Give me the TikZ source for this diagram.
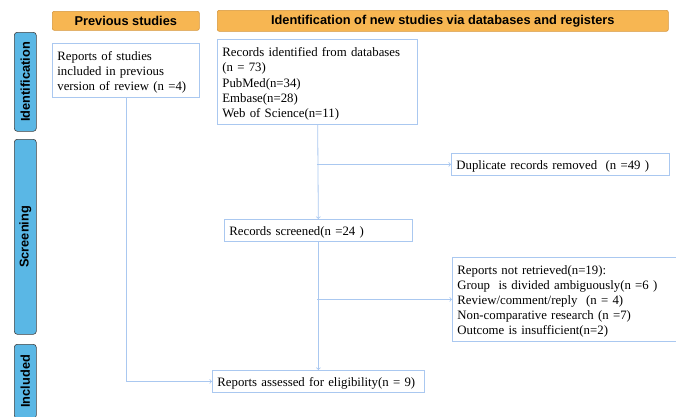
\documentclass[tikz,border=0pt]{standalone}
\usepackage{fontspec}
\setmainfont{Liberation Serif}
\newfontfamily\headfont{Liberation Sans}
\usetikzlibrary{positioning,arrows}

\definecolor{barorange}{RGB}{247,182,82}
\definecolor{barline}{RGB}{214,150,60}
\definecolor{stageblue}{RGB}{90,183,229}
\definecolor{boxline}{RGB}{170,200,240}

\begin{document}
\begin{tikzpicture}[x=1pt, y=-1pt, >=to,
  bar/.style={draw=barline, fill=barorange, rounded corners=2pt, line width=0.6pt,
    font=\headfont\bfseries\fontsize{12.8}{14}\selectfont, inner sep=0pt},
  stage/.style={draw=black!75, fill=stageblue, rounded corners=3pt, line width=0.6pt,
    font=\headfont\bfseries\fontsize{12.8}{14}\selectfont, inner sep=0pt},
  box/.style={draw=boxline, line width=0.8pt, anchor=north west, align=left,
    inner xsep=5pt, inner ysep=2pt,
    font=\fontsize{12.8}{15.2}\selectfont,
    execute at begin node={\rule{0pt}{13pt}}},
  arr/.style={draw=boxline, line width=0.8pt, ->},
]
\useasboundingbox (0,0) rectangle (676,416);

%--- Header bars ---
\node[bar, minimum width=147pt, minimum height=19pt, anchor=north west] (hprev) at (52,11) {Previous studies};
\node[bar, minimum width=451pt, minimum height=21pt, anchor=north west] (hnew) at (217,10)
  {Identification of new studies via databases and registers};

%--- Stage labels on the left ---
\node[stage, minimum width=99pt, minimum height=22pt, rotate=90, anchor=north east] (sid) at (14,32) {Identification};
\node[stage, minimum width=195pt, minimum height=22pt, rotate=90, anchor=north east] (sscr) at (14,139) {Screening};
\node[stage, minimum width=74pt, minimum height=22pt, rotate=90, anchor=north east] (sinc) at (14,344) {Included};

%--- Boxes ---
\node[box, text width=137pt, minimum height=54pt] (prev) at (52,43)
  {Reports of studies\\included in previous\\version of review (n =4)};
\node[box, text width=190pt, minimum height=85pt] (records) at (217,39)
  {Records identified from databases\\(n = 73)\\PubMed(n=34)\\Embase(n=28)\\Web of Science(n=11)};
\node[box, text width=208pt, minimum height=22pt] (dup) at (451,153)
  {Duplicate records removed\ \ (n =49 )};
\node[box, text width=178pt, minimum height=22pt] (screened) at (224,219)
  {Records screened(n =24 )};
\node[box, text width=218pt, minimum height=84pt] (notret) at (452,257)
  {Reports not retrieved(n=19):\\Group\ \ is divided ambiguously(n =6 )\\Review/comment/reply\ \ (n = 4)\\Non-comparative research (n =7)\\Outcome is insufficient(n=2)};
\node[box, text width=202pt, minimum height=22pt] (assessed) at (212,370)
  {Reports assessed for eligibility(n = 9)};

%--- Branch points ---
\coordinate (b1) at (records.south |- dup.west);
\coordinate (b2) at (records.south |- notret.west);

%--- Connectors ---
\draw[arr] (records) -- (screened);
\draw[arr] (b1) -- (dup);
\draw[arr] (screened) -- (assessed);
\draw[arr] (b2) -- (notret);
\draw[arr] (prev.south) |- (assessed.west);

\end{tikzpicture}
\end{document}
